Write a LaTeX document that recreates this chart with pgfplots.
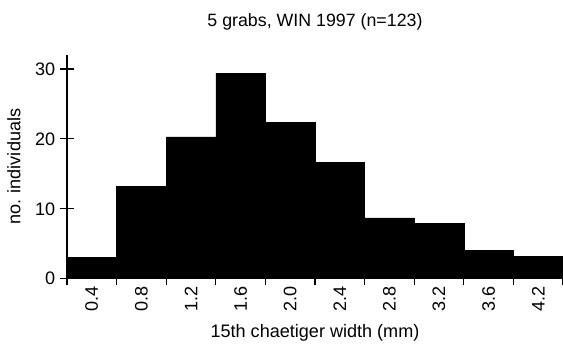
\documentclass[border=0pt]{standalone}
\usepackage{pgfplots}
\pgfplotsset{compat=1.18}
\usetikzlibrary{calc}
\usepackage{fontspec}
\setmainfont{Liberation Sans}

\begin{document}
\begin{tikzpicture}
\begin{axis}[
    name=ax,
    scale only axis,
    width=357pt, height=161pt,
    xmin=-0.5, xmax=9.5,
    ymin=0, ymax=32,
    axis x line=bottom, axis y line=left,
    axis line style={-, line width=0.8pt},
    every tick/.style={line width=0.8pt, black},
    major tick length=4.5pt,
    tick align=outside,
    % bin edges carry the x ticks, bin centres carry the labels
    xtick={-0.5,0.5,...,9.5},
    xticklabels={},
    extra x ticks={0,...,9},
    extra x tick labels={0.4,0.8,1.2,1.6,2.0,2.4,2.8,3.2,3.6,4.2},
    extra x tick style={major tick length=0pt},
    ytick=\empty,
    extra y ticks={0,10,20,30},
    extra y tick style={tick align=center, major tick length=10pt},
    /pgf/number format/assume math mode=true,
    tick label style={font=\fontsize{13}{15}\selectfont},
    x tick label style={rotate=90, anchor=east, xshift=-2pt},
    xlabel={15th chaetiger width (mm)},
    ylabel={no. individuals},
    label style={font=\fontsize{13}{15}\selectfont},
    xlabel style={yshift=2pt},
    ylabel style={yshift=-1pt},
    title={5 grabs, WIN 1997 (n=123)},
    title style={font=\fontsize{12.8}{15}\selectfont, yshift=8pt},
    clip=false,
]
\addplot[ybar, bar width=1, bar shift=0pt, fill=black, draw=black]
    coordinates {(0,3.1) (1,13.2) (2,20.3) (3,29.4) (4,22.4)
                 (5,16.6) (6,8.7) (7,7.9) (8,4.1) (9,3.2)};
\end{axis}
\pgfresetboundingbox
\path[use as bounding box] ($(ax.south west)+(-48.2pt,-49pt)$) rectangle ($(ax.north east)+(0,39.6pt)$);
\end{tikzpicture}
\end{document}
